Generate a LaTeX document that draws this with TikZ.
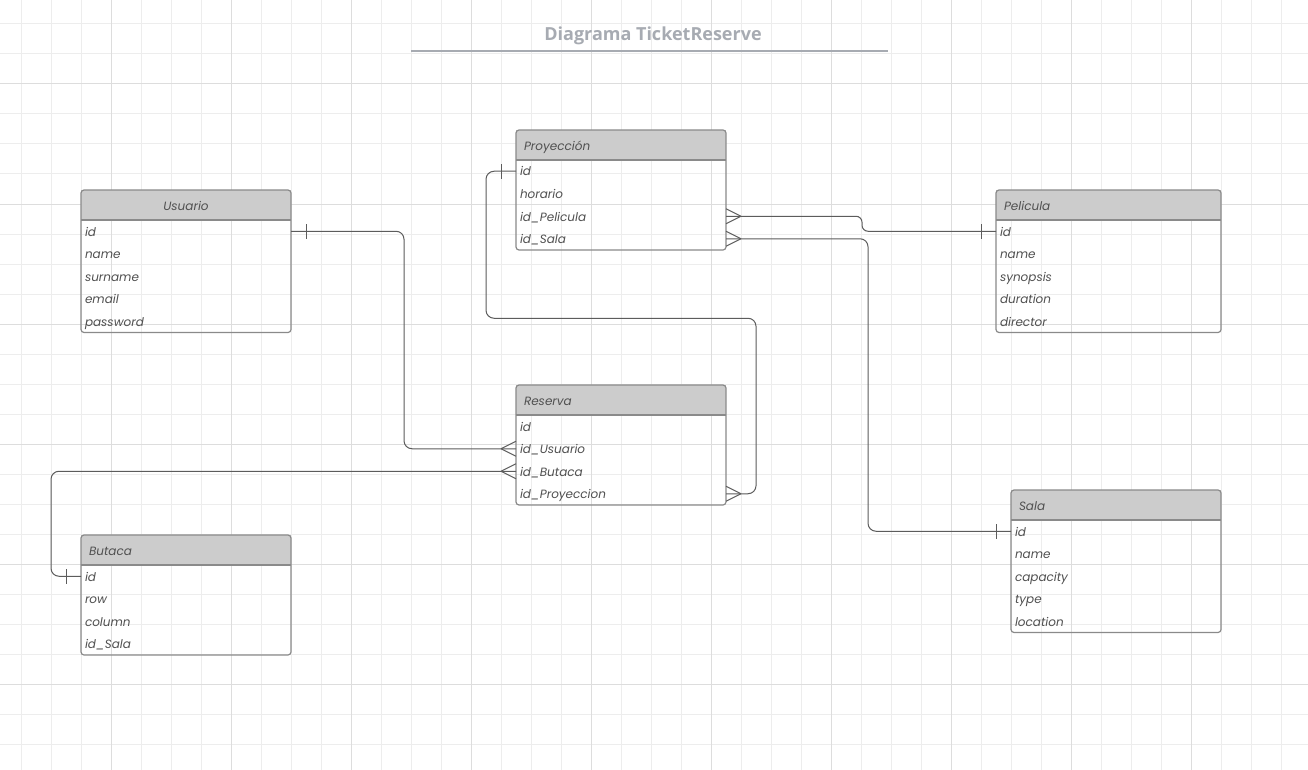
\documentclass[tikz,border=0pt]{standalone}
\usepackage{fontspec}
\setmainfont{Poppins}
\newfontfamily\titlefont{Open Sans}
\usetikzlibrary{calc}
\usetikzlibrary{positioning}
\definecolor{headgray}{HTML}{CCCCCC}
\definecolor{framegray}{HTML}{8A8A8A}
\definecolor{textgray}{HTML}{505050}
\definecolor{linegray}{HTML}{5C5C5C}
\definecolor{titlegray}{HTML}{A7ABB2}
\definecolor{gridminor}{HTML}{EDEDED}
\definecolor{gridmajor}{HTML}{DDDDDD}
\tikzstyle{frame} = [draw=framegray, line width=1.2pt, rounded corners=3pt]
\tikzstyle{conn} = [draw=linegray, line width=1pt]
\tikzstyle{link} = [conn, rounded corners=8pt]
\tikzset{
  thead/.style={fill=headgray, text=textgray, inner xsep=8pt, inner ysep=0pt, outer sep=0pt,
    minimum height=30pt, text width=#1, align=left, text height=12pt, text depth=1pt,
    font=\itshape\fontsize{12}{15}\selectfont},
  thead/.default=194pt,
  trow/.style={text=textgray, inner xsep=4pt, inner ysep=0pt, outer sep=0pt,
    minimum height=22.5pt, text width=#1, align=left, text height=11pt, text depth=1.5pt,
    font=\itshape\fontsize{12}{15}\selectfont},
  trow/.default=202pt,
  crow/.pic={\draw[conn] (-15,0) -- (0,7.5) (-15,0) -- (0,-7.5);},
  bar/.pic={\draw[conn] (-15,7.5) -- (-15,-7.5);}
}
\begin{document}
\begin{tikzpicture}[x=1pt, y=-1pt]
    \useasboundingbox (0,0) rectangle (1308,770);
    \fill[white] (0,0) rectangle (1308,770);

    % background grid
    \foreach \gx in {21,51,...,1301} \draw[gridminor, line width=1pt] (\gx,0) -- (\gx,770);
    \foreach \gy in {24,54,...,764} \draw[gridminor, line width=1pt] (0,\gy) -- (1308,\gy);
    \foreach \gx in {111,231,...,1191} \draw[gridmajor, line width=1pt] (\gx,0) -- (\gx,770);
    \foreach \gy in {84,204,...,684} \draw[gridmajor, line width=1pt] (0,\gy) -- (1308,\gy);

    \node[font=\titlefont\bfseries\fontsize{18}{20}\selectfont, text=titlegray] at (653,36) (title) {Diagrama TicketReserve};
    \draw[titlegray, line width=1.5pt] (411,51) -- (888,51);

    % Usuario
    \node[thead, align=center, anchor=north west] at (81,190) (usu) {Usuario};
    \node[trow, below=0pt of usu] (usu-id) {id};
    \node[trow, below=0pt of usu-id] (usu-name) {name};
    \node[trow, below=0pt of usu-name] (usu-sur) {surname};
    \node[trow, below=0pt of usu-sur] (usu-mail) {email};
    \node[trow, below=0pt of usu-mail] (usu-pass) {password};
    \draw[frame] (usu.north west) rectangle (usu-pass.south east);
    \draw[frame] (usu.south west) -- (usu.south east);

    % Proyeccion
    \node[thead, anchor=north west] at (516,130) (proy) {Proyección};
    \node[trow, below=0pt of proy] (proy-id) {id};
    \node[trow, below=0pt of proy-id] (proy-hor) {horario};
    \node[trow, below=0pt of proy-hor] (proy-pel) {id\_Pelicula};
    \node[trow, below=0pt of proy-pel] (proy-sala) {id\_Sala};
    \draw[frame] (proy.north west) rectangle (proy-sala.south east);
    \draw[frame] (proy.south west) -- (proy.south east);

    % Pelicula
    \node[thead=209pt, anchor=north west] at (996,190) (pel) {Pelicula};
    \node[trow=217pt, below=0pt of pel] (pel-id) {id};
    \node[trow=217pt, below=0pt of pel-id] (pel-name) {name};
    \node[trow=217pt, below=0pt of pel-name] (pel-syn) {synopsis};
    \node[trow=217pt, below=0pt of pel-syn] (pel-dur) {duration};
    \node[trow=217pt, below=0pt of pel-dur] (pel-dir) {director};
    \draw[frame] (pel.north west) rectangle (pel-dir.south east);
    \draw[frame] (pel.south west) -- (pel.south east);

    % Reserva
    \node[thead, anchor=north west] at (516,385) (res) {Reserva};
    \node[trow, below=0pt of res] (res-id) {id};
    \node[trow, below=0pt of res-id] (res-usu) {id\_Usuario};
    \node[trow, below=0pt of res-usu] (res-but) {id\_Butaca};
    \node[trow, below=0pt of res-but] (res-pro) {id\_Proyeccion};
    \draw[frame] (res.north west) rectangle (res-pro.south east);
    \draw[frame] (res.south west) -- (res.south east);

    % Butaca
    \node[thead, anchor=north west] at (81,535) (but) {Butaca};
    \node[trow, below=0pt of but] (but-id) {id};
    \node[trow, below=0pt of but-id] (but-row) {row};
    \node[trow, below=0pt of but-row] (but-col) {column};
    \node[trow, below=0pt of but-col] (but-sala) {id\_Sala};
    \draw[frame] (but.north west) rectangle (but-sala.south east);
    \draw[frame] (but.south west) -- (but.south east);

    % Sala
    \node[thead, anchor=north west] at (1011,490) (sala) {Sala};
    \node[trow, below=0pt of sala] (sala-id) {id};
    \node[trow, below=0pt of sala-id] (sala-name) {name};
    \node[trow, below=0pt of sala-name] (sala-cap) {capacity};
    \node[trow, below=0pt of sala-cap] (sala-type) {type};
    \node[trow, below=0pt of sala-type] (sala-loc) {location};
    \draw[frame] (sala.north west) rectangle (sala-loc.south east);
    \draw[frame] (sala.south west) -- (sala.south east);

    % relations
    \draw[link] (usu-id.east) -- ++(113,0) |- (res-usu.west);
    \pic[xscale=-1] at (usu-id.east) {bar};
    \pic at (res-usu.west) {crow};

    \draw[link] (proy-id.west) -- ++(-30,0) -- ++(0,147) -| ($(res-pro.east)+(30,0)$) -- (res-pro.east);
    \pic at (proy-id.west) {bar};
    \pic[xscale=-1] at (res-pro.east) {crow};

    \draw[link, rounded corners=6pt] (proy-pel.east) -- ++(136,0) |- (pel-id.west);
    \pic[xscale=-1] at (proy-pel.east) {crow};
    \pic at (pel-id.west) {bar};

    \draw[link] (proy-sala.east) -- ++(142,0) |- (sala-id.west);
    \pic[xscale=-1] at (proy-sala.east) {crow};
    \pic at (sala-id.west) {bar};

    \draw[link] (but-id.west) -- ++(-30,0) |- (res-but.west);
    \pic at (but-id.west) {bar};
    \pic at (res-but.west) {crow};
\end{tikzpicture}
\end{document}
